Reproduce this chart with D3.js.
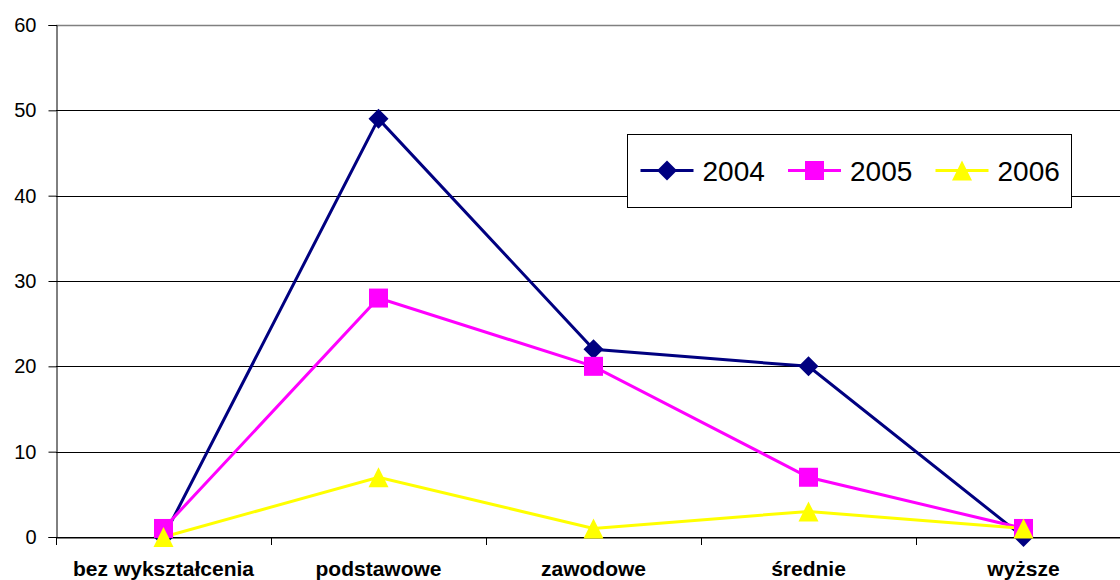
<!DOCTYPE html>
<html>
<head>
<meta charset="utf-8">
<script src="https://cdn.jsdelivr.net/npm/d3@7"></script>
<style>
  body { margin: 0; background: #fff; }
  svg { display: block; font-family: Arial, "Liberation Sans", sans-serif; }
</style>
</head>
<body>
<div id="chart"></div>
<script>
// data
var categories = ["bez wykształcenia", "podstawowe", "zawodowe", "średnie", "wyższe"];
var years = ["2004", "2005", "2006"];
var values2004 = [0, 49, 22, 20, 0];
var values2005 = [1, 28, 20, 7, 1];
var values2006 = [0, 7, 1, 3, 1];
var yTicks = [0, 10, 20, 30, 40, 50, 60];

var colors = ["#000080", "#ff00ff", "#ffff00"];

// marker shapes like the spreadsheet ones (size = width in px)
var diamond = {
  draw: function(ctx, s) {
    var r = s / 2;
    ctx.moveTo(0, -r); ctx.lineTo(r, 0); ctx.lineTo(0, r); ctx.lineTo(-r, 0); ctx.closePath();
  }
};
var square = {
  draw: function(ctx, s) {
    var r = s / 2;
    ctx.rect(-r, -r, s, s);
  }
};
var triangle = {
  draw: function(ctx, s) {
    var r = s / 2;
    ctx.moveTo(0, -r); ctx.lineTo(r, r); ctx.lineTo(-r, r); ctx.closePath();
  }
};
var symbols = [diamond, square, triangle];
var symbolSizes = [20, 19, 20];

var series = [values2004, values2005, values2006].map(function(v, i) {
  return { name: years[i], values: v, color: colors[i], symbol: symbols[i], size: symbolSizes[i] };
});

var W = 1120, H = 580;
var margin = {top: 25, left: 56, bottom: 43};
var plotW = 1075, plotH = H - margin.top - margin.bottom;

var svg = d3.select("#chart").append("svg")
    .attr("width", W)
    .attr("height", H);

var g = svg.append("g")
    .attr("transform", "translate(" + margin.left + "," + margin.top + ")");

var x = d3.scaleBand()
    .domain(categories)
    .range([0, plotW]);

var y = d3.scaleLinear()
    .domain([0, 60])
    .range([plotH, 0]);

// gridlines
g.append("g")
  .selectAll("line")
  .data(yTicks)
  .enter()
  .append("line")
    .attr("x1", 0)
    .attr("x2", plotW)
    .attr("y1", function(d) { return Math.round(y(d)) + 0.5; })
    .attr("y2", function(d) { return Math.round(y(d)) + 0.5; })
    .attr("stroke", function(d) { return d === 60 ? "#808080" : "#000"; })
    .attr("stroke-width", function(d) { return d === 60 ? 1.5 : 1; });

// y axis
var yAxis = g.append("g")
    .attr("transform", "translate(0.5,0)")
    .call(d3.axisLeft(y).tickValues(yTicks).tickSize(8).tickPadding(12));
yAxis.select(".domain").attr("stroke", "#000");
yAxis.selectAll("text")
    .attr("font-size", 20)
    .attr("fill", "#000")
    .attr("font-family", "Arial, 'Liberation Sans', sans-serif");

// x axis
var xAxis = g.append("g")
    .attr("transform", "translate(0," + (Math.round(plotH) + 0.5) + ")")
    .call(d3.axisBottom(x).tickSize(0).tickPadding(24));
xAxis.select(".domain").attr("stroke", "#000");
xAxis.selectAll("text")
    .attr("font-size", 21)
    .attr("font-weight", "bold")
    .attr("fill", "#000")
    .attr("font-family", "Arial, 'Liberation Sans', sans-serif");

// category separator ticks
g.append("g")
  .selectAll("line")
  .data(categories.concat(["end"]))
  .enter()
  .append("line")
    .attr("x1", function(d, i) { return Math.round(i * x.bandwidth()) + 0.5; })
    .attr("x2", function(d, i) { return Math.round(i * x.bandwidth()) + 0.5; })
    .attr("y1", plotH)
    .attr("y2", plotH + 8)
    .attr("stroke", "#000");

var cx = function(d, i) { return x(categories[i]) + x.bandwidth() / 2; };

var line = d3.line()
    .x(function(d, i) { return cx(d, i); })
    .y(function(d) { return y(d); });

series.forEach(function(s) {
  g.append("path")
    .datum(s.values)
    .attr("d", line)
    .attr("fill", "none")
    .attr("stroke", s.color)
    .attr("stroke-width", 3);
});

series.forEach(function(s) {
  g.append("g")
    .selectAll("path")
    .data(s.values)
    .enter()
    .append("path")
      .attr("d", d3.symbol().type(s.symbol).size(s.size))
      .attr("transform", function(d, i) {
        return "translate(" + cx(d, i) + "," + y(d) + ")";
      })
      .attr("fill", s.color);
});

// legend
var legend = svg.append("g")
    .attr("transform", "translate(627.5,134.5)");
legend.append("rect")
    .attr("width", 444)
    .attr("height", 73)
    .attr("fill", "#fff")
    .attr("stroke", "#000")
    .attr("stroke-width", 1);

var item = legend.selectAll("g.item")
    .data(series)
    .enter()
    .append("g")
      .attr("class", "item")
      .attr("transform", function(d, i) { return "translate(" + (13 + i * 147.5) + ",36)"; });

item.append("line")
    .attr("x1", 0)
    .attr("x2", 53)
    .attr("stroke", function(d) { return d.color; })
    .attr("stroke-width", 3);
item.append("path")
    .attr("d", function(d) { return d3.symbol().type(d.symbol).size(d.size)(); })
    .attr("transform", "translate(26.5,0)")
    .attr("fill", function(d) { return d.color; });
item.append("text")
    .attr("x", 62)
    .attr("y", 10)
    .attr("font-size", 28)
    .attr("fill", "#000")
    .text(function(d) { return d.name; });
</script>
</body>
</html>
